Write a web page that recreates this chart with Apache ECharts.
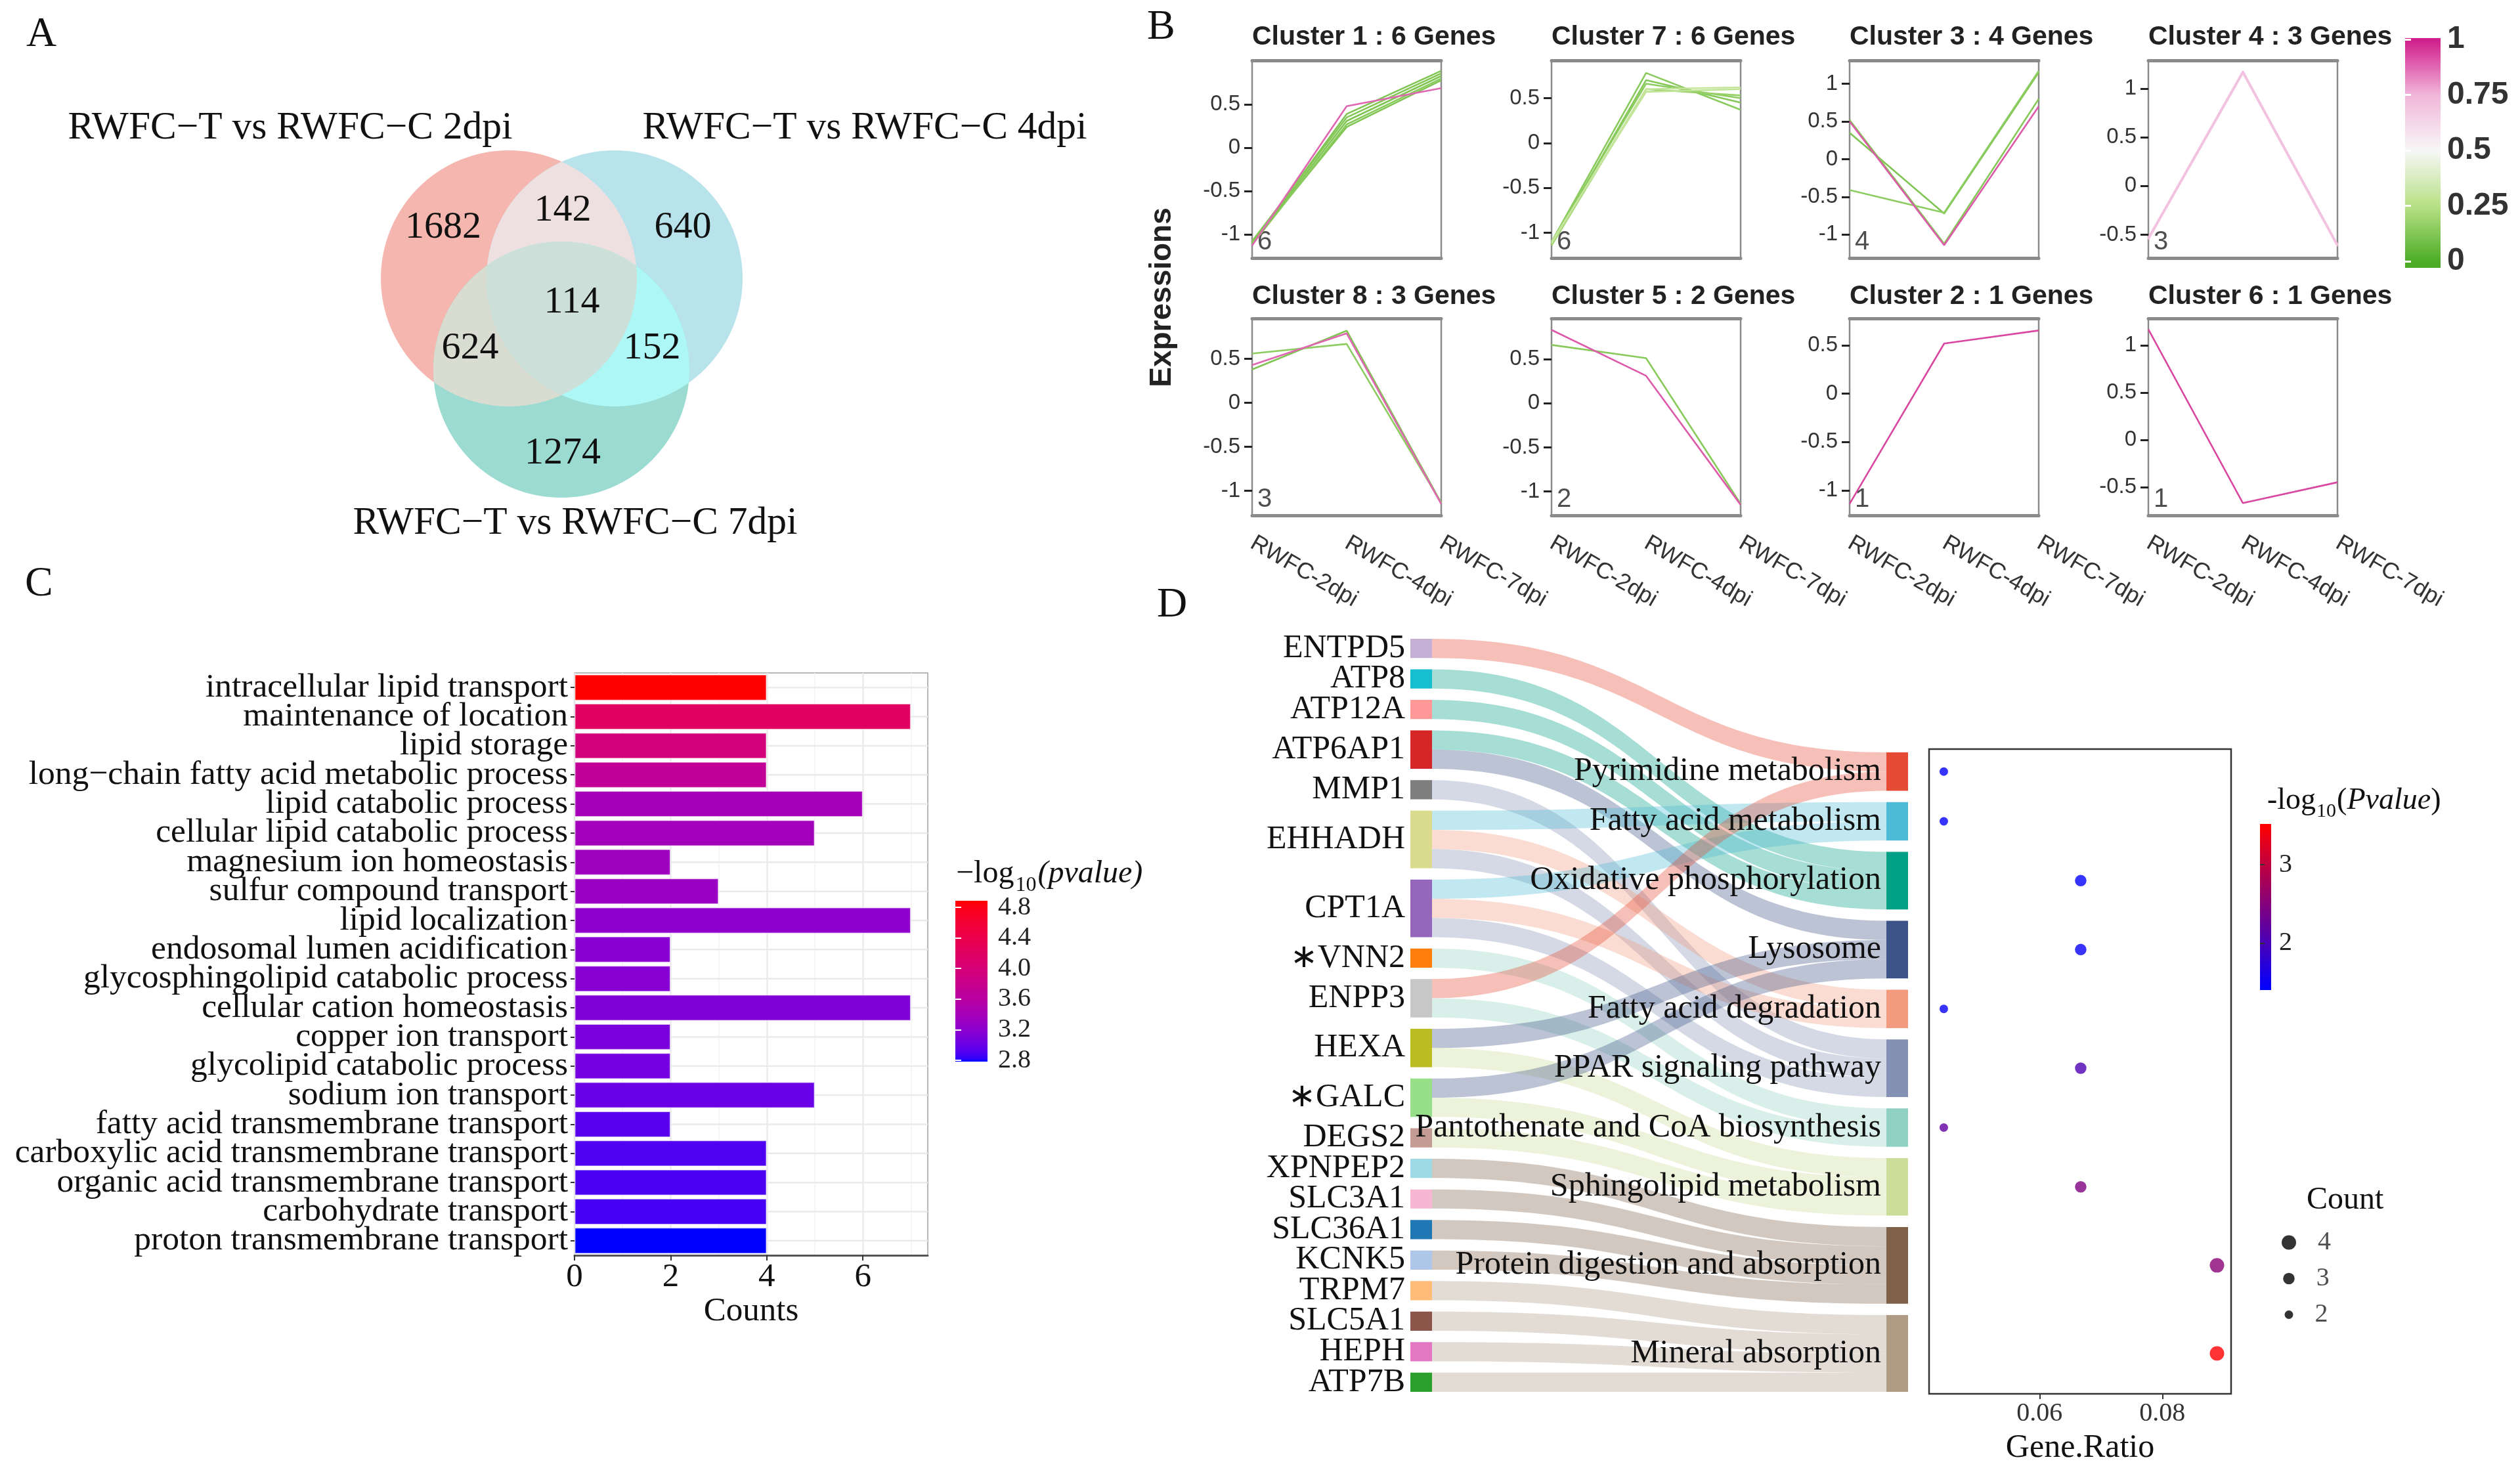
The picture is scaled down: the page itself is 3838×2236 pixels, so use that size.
<!DOCTYPE html>
<html><head><meta charset="utf-8">
<script src="https://cdn.jsdelivr.net/npm/echarts@6/dist/echarts.min.js"></script>
<style>html,body{margin:0;padding:0;background:#fff}#c{width:3838px;height:2236px}</style>
</head><body><div id="c"></div><script>
// ================= DATA =================
// Panel A (Venn)
const vennSetNames = ['RWFC\u2212T vs RWFC\u2212C 2dpi','RWFC\u2212T vs RWFC\u2212C 4dpi','RWFC\u2212T vs RWFC\u2212C 7dpi'];
const vennRegions = ['2dpi only','4dpi only','7dpi only','2dpi&4dpi','2dpi&7dpi','4dpi&7dpi','all three'];
const vennCounts = [1682, 640, 1274, 142, 624, 152, 114];

// Panel B (Mfuzz clusters)
const timePoints = ['RWFC-2dpi','RWFC-4dpi','RWFC-7dpi'];
const clusterIds = [1,7,3,4,8,5,2,6];
const clusterProfiles = [
  [[-1.10,0.39,0.89],[-1.08,0.35,0.86],[-1.10,0.31,0.83],[-1.12,0.27,0.80],[-1.10,0.24,0.78],[-1.13,0.48,0.69]],
  [[-1.10,0.78,0.37],[-1.12,0.70,0.45],[-1.10,0.66,0.50],[-1.14,0.60,0.53],[-1.10,0.57,0.60],[-1.12,0.60,0.62]],
  [[0.52,-1.12,0.80],[0.35,-0.72,1.15],[-0.41,-0.71,1.17],[0.50,-1.14,0.70]],
  [[-0.54,1.17,-0.61],[-0.55,1.16,-0.62],[-0.53,1.18,-0.60]],
  [[0.56,0.67,-1.14],[0.38,0.82,-1.14],[0.43,0.79,-1.15]],
  [[0.66,0.51,-1.14],[0.83,0.31,-1.15]],
  [[-1.14,0.52,0.655]],
  [[1.17,-0.67,-0.45]]
];
const clusterMembership = [
  [0.12,0.13,0.12,0.14,0.12,0.88],
  [0.14,0.13,0.15,0.17,0.28,0.30],
  [0.13,0.12,0.15,0.90],
  [0.70,0.70,0.70],
  [0.15,0.12,0.88],
  [0.14,0.90],
  [0.93],
  [0.93]
];
const clusterYMin = [-1.275,-1.28,-1.31,-0.74,-1.28,-1.27,-1.26,-0.80];
const clusterYMax = [1.01,0.92,1.31,1.29,0.96,0.96,0.78,1.285];
const clusterYTicks = [[-1,-0.5,0,0.5],[-1,-0.5,0,0.5],[-1,-0.5,0,0.5,1],[-0.5,0,0.5,1],[-1,-0.5,0,0.5],[-1,-0.5,0,0.5],[-1,-0.5,0,0.5],[-0.5,0,0.5,1]];
const membershipTicks = [0,0.25,0.5,0.75,1];

// Panel C (GO bars)
const goTerms = ['intracellular lipid transport','maintenance of location','lipid storage','long\u2212chain fatty acid metabolic process','lipid catabolic process','cellular lipid catabolic process','magnesium ion homeostasis','sulfur compound transport','lipid localization','endosomal lumen acidification','glycosphingolipid catabolic process','cellular cation homeostasis','copper ion transport','glycolipid catabolic process','sodium ion transport','fatty acid transmembrane transport','carboxylic acid transmembrane transport','organic acid transmembrane transport','carbohydrate transport','proton transmembrane transport'];
const goCounts = [4,7,4,4,6,5,2,3,7,2,2,7,2,2,5,2,4,4,4,4];
const goLogP = [4.886,4.20,3.97,3.70,3.40,3.38,3.34,3.30,3.22,3.17,3.16,3.12,3.08,3.06,3.00,2.93,2.90,2.89,2.87,2.783];
const goCountTicks = [0,2,4,6];
const goLegendTicks = [2.8,3.2,3.6,4.0,4.4,4.8];

// Panel D (Sankey + dot plot)
const genes = ['ENTPD5','ATP8','ATP12A','ATP6AP1','MMP1','EHHADH','CPT1A','\u2217VNN2','ENPP3','HEXA','\u2217GALC','DEGS2','XPNPEP2','SLC3A1','SLC36A1','KCNK5','TRPM7','SLC5A1','HEPH','ATP7B'];
const pathways = ['Pyrimidine metabolism','Fatty acid metabolism','Oxidative phosphorylation','Lysosome','Fatty acid degradation','PPAR signaling pathway','Pantothenate and CoA biosynthesis','Sphingolipid metabolism','Protein digestion and absorption','Mineral absorption'];
const geneLinks = [
  ['ENTPD5','Pyrimidine metabolism'],
  ['ATP8','Oxidative phosphorylation'],
  ['ATP12A','Oxidative phosphorylation'],
  ['ATP6AP1','Oxidative phosphorylation'],['ATP6AP1','Lysosome'],
  ['MMP1','PPAR signaling pathway'],
  ['EHHADH','Fatty acid metabolism'],['EHHADH','Fatty acid degradation'],['EHHADH','PPAR signaling pathway'],
  ['CPT1A','Fatty acid metabolism'],['CPT1A','Fatty acid degradation'],['CPT1A','PPAR signaling pathway'],
  ['\u2217VNN2','Pantothenate and CoA biosynthesis'],
  ['ENPP3','Pyrimidine metabolism'],['ENPP3','Pantothenate and CoA biosynthesis'],
  ['HEXA','Lysosome'],['HEXA','Sphingolipid metabolism'],
  ['\u2217GALC','Lysosome'],['\u2217GALC','Sphingolipid metabolism'],
  ['DEGS2','Sphingolipid metabolism'],
  ['XPNPEP2','Protein digestion and absorption'],['SLC3A1','Protein digestion and absorption'],
  ['SLC36A1','Protein digestion and absorption'],['KCNK5','Protein digestion and absorption'],
  ['TRPM7','Mineral absorption'],['SLC5A1','Mineral absorption'],['HEPH','Mineral absorption'],['ATP7B','Mineral absorption']
];
const pathwayCount = [2,2,3,3,2,3,2,3,4,4];
const pathwayGeneRatio = [0.0444,0.0444,0.0667,0.0667,0.0444,0.0667,0.0444,0.0667,0.0889,0.0889];
const pathwayLogP = [1.42,1.43,1.43,1.47,1.45,2.05,2.20,2.45,2.55,3.52];
const ratioTicks = [0.06,0.08];
const pLegendTicks = [2,3];
const countLegend = [4,3,2];

// ================= STYLE HELPERS =================
const FS = "'Liberation Serif','Times New Roman',serif";
const FA = "'Liberation Sans',Arial,sans-serif";
const geneColors = ['#C5B0D5','#17BECF','#FF9896','#D62728','#7F7F7F','#DBDB8D','#9467BD','#FF7F0E','#C7C7C7','#BCBD22','#98DF8A','#C49C94','#9EDAE5','#F7B6D2','#1F77B4','#AEC7E8','#FFBB78','#8C564B','#E377C2','#2CA02C'];
const pathColors = ['#E64B35','#4DBBD5','#00A087','#3C5488','#F39B7F','#8491B4','#91D1C2','#CCDD99','#7E6148','#B09C85'];
const memberStops = ['#4DAC26','#B8E186','#F7F7F7','#F1B6DA','#D01C8B'];

function hex(h){h=h.replace('#','');return [0,2,4].map(i=>parseInt(h.substr(i,2),16));}
function rgbHex(a){return '#'+a.map(v=>Math.max(0,Math.min(255,Math.round(v))).toString(16).padStart(2,'0')).join('');}
function piecewise(stops,t){t=Math.max(0,Math.min(1,t));const n=stops.length-1;const k=Math.min(n-1,Math.floor(t*n));const f=t*n-k;const a=hex(stops[k]),b=hex(stops[k+1]);return rgbHex(a.map((v,i)=>v+(b[i]-v)*f));}
function toLin(c){c/=255;return c<=0.04045?c/12.92:Math.pow((c+0.055)/1.055,2.4);}
function fromLin(c){c=c<=0.0031308?12.92*c:1.055*Math.pow(Math.max(c,0),1/2.4)-0.055;return c*255;}
function rgb2lab(rgb){const R=toLin(rgb[0]),G=toLin(rgb[1]),B=toLin(rgb[2]);
  const X=(0.4124*R+0.3576*G+0.1805*B)/0.95047,Y=0.2126*R+0.7152*G+0.0722*B,Z=(0.0193*R+0.1192*G+0.9505*B)/1.08883;
  const f=t=>t>0.008856?Math.cbrt(t):7.787*t+16/116;return [116*f(Y)-16,500*(f(X)-f(Y)),200*(f(Y)-f(Z))];}
function lab2rgb(l){const fy=(l[0]+16)/116,fx=fy+l[1]/500,fz=fy-l[2]/200;
  const fi=t=>t*t*t>0.008856?t*t*t:(t-16/116)/7.787;
  const X=fi(fx)*0.95047,Y=fi(fy),Z=fi(fz)*1.08883;
  return [fromLin(3.2406*X-1.5372*Y-0.4986*Z),fromLin(-0.9689*X+1.8758*Y+0.0415*Z),fromLin(0.0557*X-0.2040*Y+1.0570*Z)];}
const LAB_LO=rgb2lab(hex('#0000FF')),LAB_HI=rgb2lab(hex('#FF0000'));
const C_MIN=2.783,C_MAX=4.886;
function goColor(v){const t=Math.max(0,Math.min(1,(v-C_MIN)/(C_MAX-C_MIN)));return rgbHex(lab2rgb(LAB_LO.map((a,i)=>a+(LAB_HI[i]-a)*t)));}
const D_MIN=1.40,D_MAX=3.52;
function dColor(v){return piecewise(['#0000FF','#FF0000'],(v-D_MIN)/(D_MAX-D_MIN));}
function memberColor(m){return piecewise(memberStops,m);}
function dotSize(c){return 4.5*c+4;}

// ================= BUILD OPTION =================
const grids=[],xAxes=[],yAxes=[],series=[],graphics=[];
const addG=g=>{grids.push(Object.assign({containLabel:false},g));return grids.length-1;};
const addX=a=>{xAxes.push(a);return xAxes.length-1;};
const addY=a=>{yAxes.push(a);return yAxes.length-1;};
function txt(x,y,text,o){o=o||{};graphics.push({type:'text',x,y,rotation:o.rotation||0,z:50,silent:true,style:Object.assign({text,fill:o.color||'#111',fontSize:o.size||50,fontFamily:o.family||FS,fontWeight:o.weight||'normal',fontStyle:o.style||'normal',textAlign:o.align||'left',align:o.align||'left',textVerticalAlign:'middle',verticalAlign:'middle'},o.extra||{})});}

// panel letters
txt(40,53,'A',{size:64});txt(1747,42,'B',{size:64});txt(38,890,'C',{size:64});txt(1762,922,'D',{size:64});

// ---------- Panel A: Venn ----------
const VENN={c:[[775,424],[936,424],[855,563]],r:195,
  shapes:[[0],[1],[2],[0,1],[0,2],[1,2],[0,1,2]],
  fills:['#F4B6AE','#B9E3EB','#9CDBD1','#EEE0E0','#D9DCD0','#ADF7F7','#CCDFD9'],
  labelPos:[[675,347],[1040,347],[857,691],[857,321],[716,531],[993,531],[871,461]],
  titlePos:[[442,195],[1317,195],[876,797]]};
function discIntersection(ids){const pts=[],N=1440;
  ids.forEach(i=>{const cx=VENN.c[i][0],cy=VENN.c[i][1];
    for(let k=0;k<N;k++){const t=2*Math.PI*k/N,x=cx+VENN.r*Math.cos(t),y=cy+VENN.r*Math.sin(t);
      if(ids.every(j=>j===i||Math.hypot(x-VENN.c[j][0],y-VENN.c[j][1])<=VENN.r+1e-6))pts.push([x,y]);}});
  let mx=0,my=0;pts.forEach(p=>{mx+=p[0];my+=p[1];});mx/=pts.length;my/=pts.length;
  pts.sort((a,b)=>Math.atan2(a[1]-my,a[0]-mx)-Math.atan2(b[1]-my,b[0]-mx));return pts;}
const gA=addG({left:0,top:0,width:1700,height:900,show:false});
const xA=addX({gridIndex:gA,type:'value',min:0,max:1700,show:false});
const yA=addY({gridIndex:gA,type:'value',min:0,max:900,inverse:true,show:false});
series.push({type:'custom',xAxisIndex:xA,yAxisIndex:yA,silent:true,z:1,data:VENN.shapes.map((s,i)=>[i]),
  renderItem:(p,api)=>{const ids=VENN.shapes[p.dataIndex],fill=VENN.fills[p.dataIndex];
    if(ids.length===1){const c=api.coord(VENN.c[ids[0]]);const r=api.size([VENN.r,0])[0];return {type:'circle',shape:{cx:c[0],cy:c[1],r},style:{fill}};}
    return {type:'polygon',shape:{points:discIntersection(ids).map(q=>api.coord(q))},style:{fill}};}});
series.push({type:'custom',xAxisIndex:xA,yAxisIndex:yA,silent:true,z:3,data:vennCounts.map(v=>[v]),
  renderItem:(p,api)=>{const c=api.coord(VENN.labelPos[p.dataIndex]);
    return {type:'text',x:c[0],y:c[1],style:{text:String(vennCounts[p.dataIndex]),fontSize:58,fontFamily:FS,fill:'#111',textAlign:'center',align:'center',textVerticalAlign:'middle',verticalAlign:'middle'}};}});
vennSetNames.forEach((n,i)=>txt(VENN.titlePos[i][0],VENN.titlePos[i][1],n,{size:59.5,align:'center'}));

// ---------- Panel B: clusters ----------
const colLeft=[1907,2363,2817,3272],rowTop=[92,485],rowH=[301,300],boxW=288,titleY=[57,452];
clusterIds.forEach((cid,k)=>{
  const row=Math.floor(k/4),col=k%4,prof=clusterProfiles[k],mem=clusterMembership[k];
  const g=addG({left:colLeft[col],top:rowTop[row],width:boxW,height:rowH[row],show:true,borderColor:'#8a8a8a',borderWidth:2.5});
  const xi=addX({gridIndex:g,type:'category',data:timePoints,boundaryGap:false,
    axisLine:{show:true,onZero:false,lineStyle:{color:'#8a8a8a',width:5}},axisTick:{show:false},
    axisLabel:{show:row===1,rotate:-30,fontSize:35,fontFamily:FA,color:'#333',margin:40,interval:0}});
  addX({gridIndex:g,type:'category',position:'top',data:timePoints,boundaryGap:false,
    axisLine:{show:true,onZero:false,lineStyle:{color:'#8a8a8a',width:5}},axisTick:{show:false},axisLabel:{show:false}});
  const yi=addY({gridIndex:g,type:'value',min:clusterYMin[k],max:clusterYMax[k],
    axisLine:{show:false},splitLine:{show:false},
    axisTick:{show:true,length:12,lineStyle:{color:'#222',width:3},customValues:clusterYTicks[k]},
    axisLabel:{customValues:clusterYTicks[k],fontSize:33,fontFamily:FA,color:'#333',margin:18}});
  const order=mem.map((m,i)=>i).sort((a,b)=>mem[a]-mem[b]);
  order.forEach((j,zi)=>series.push({type:'line',xAxisIndex:xi,yAxisIndex:yi,data:prof[j],symbol:'none',silent:true,z:2+zi*0.01,
    lineStyle:{color:memberColor(mem[j]),width:2.6}}));
  series.push({type:'scatter',xAxisIndex:xi,yAxisIndex:yi,data:[[0,clusterYMin[k]]],symbolSize:0.1,silent:true,
    itemStyle:{color:'rgba(0,0,0,0)'},label:{show:true,formatter:String(prof.length),position:[8,-44],fontSize:40,fontFamily:FA,color:'#222'}});
  txt(colLeft[col],titleY[row],'Cluster '+cid+' : '+prof.length+' Genes',{size:41,family:FA,weight:'bold',color:'#222'});
});
txt(1770,453,'Expressions',{size:46,family:FA,weight:'bold',color:'#222',align:'center',rotation:Math.PI/2});

// colorbar helper
function colorbar(g,min,max,colorFn,ticks,tickStyle,labelStyle,twoSided){
  const xi=addX({gridIndex:g,type:'value',min:0,max:1,show:false});
  const yi=addY({gridIndex:g,type:'value',min,max,position:'right',axisLine:{show:false},splitLine:{show:false},
    axisTick:Object.assign({show:true,customValues:ticks},tickStyle),axisLabel:Object.assign({customValues:ticks},labelStyle)});
  if(twoSided) addY({gridIndex:g,type:'value',min,max,position:'left',axisLine:{show:false},splitLine:{show:false},
    axisTick:Object.assign({show:true,customValues:ticks},tickStyle),axisLabel:{show:false}});
  const stops=[];for(let i=0;i<=60;i++){const t=i/60;stops.push({offset:t,color:colorFn(min+(max-min)*t)});}
  series.push({type:'custom',xAxisIndex:xi,yAxisIndex:yi,silent:true,z:-1,data:[[0,min]],
    renderItem:(p)=>{const cs=p.coordSys;return {type:'rect',shape:{x:cs.x,y:cs.y,width:cs.width,height:cs.height},style:{fill:new echarts.graphic.LinearGradient(0,1,0,0,stops)}};}});
}
const gBc=addG({left:3663,top:58,width:54,height:350,show:false});
colorbar(gBc,-0.0296,1.006,memberColor,membershipTicks,{inside:true,length:9,lineStyle:{color:'#fff',width:3}},
  {fontSize:48,fontFamily:FA,fontWeight:'bold',color:'#333',margin:10},true);

// ---------- Panel C: GO bar ----------
const C_XMAX=7.35;
const gC=addG({left:875,top:1025,width:538,height:887,show:true,borderColor:'#a0a0a0',borderWidth:1.5});
const xC=addX({gridIndex:gC,type:'value',min:0,max:C_XMAX,interval:2,
  axisLine:{show:true,onZero:false,lineStyle:{color:'#555',width:3}},
  axisTick:{show:true,length:8,lineStyle:{color:'#333',width:2},customValues:goCountTicks},
  axisLabel:{fontSize:51,fontFamily:FS,color:'#111',margin:8,customValues:goCountTicks},
  splitLine:{show:true,lineStyle:{color:'#EBEBEB',width:2.5}},
  minorTick:{show:false,splitNumber:2},minorSplitLine:{show:true,lineStyle:{color:'#F3F3F3',width:1.5}},
  name:'Counts',nameLocation:'middle',nameGap:52,nameTextStyle:{fontSize:51,fontFamily:FS,color:'#111'}});
const yC=addY({gridIndex:gC,type:'category',data:goTerms,inverse:true,
  axisLine:{show:false},axisTick:{show:true,alignWithLabel:true,length:6,lineStyle:{color:'#333',width:2}},
  axisLabel:{fontSize:51.5,fontFamily:FS,color:'#111',margin:10,interval:0},splitLine:{show:false}});
// horizontal major gridlines through category centres
series.push({type:'custom',xAxisIndex:xC,yAxisIndex:yC,silent:true,z:1,data:goTerms.map((t,i)=>[0,i]),
  renderItem:(p,api)=>{const a=api.coord([0,p.dataIndex]),b=api.coord([C_XMAX,p.dataIndex]);
    return {type:'line',shape:{x1:a[0],y1:a[1],x2:b[0],y2:b[1]},style:{stroke:'#EBEBEB',lineWidth:2.5}};}});
series.push({type:'bar',xAxisIndex:xC,yAxisIndex:yC,barWidth:'90%',silent:true,z:2,
  data:goCounts.map((v,i)=>({value:v,itemStyle:{color:goColor(goLogP[i]),borderColor:'rgba(255,255,255,0.55)',borderWidth:1.5}}))});
const gCc=addG({left:1455,top:1372,width:49,height:245,show:false});
colorbar(gCc,C_MIN,C_MAX,goColor,goLegendTicks,{inside:true,length:9,lineStyle:{color:'#fff',width:2}},
  {fontSize:40,fontFamily:FS,color:'#222',margin:16,formatter:v=>v.toFixed(1)},true);
txt(1456,1336,'{a|\u2212log}{s|10}{i|(pvalue)}',{size:46,extra:{rich:{
  a:{fontSize:48,fontFamily:FS,fill:'#111',verticalAlign:'bottom',padding:[0,0,10,0]},
  s:{fontSize:32,fontFamily:FS,fill:'#111',verticalAlign:'bottom',padding:[0,2,0,2]},
  i:{fontSize:48,fontFamily:FS,fontStyle:'italic',fill:'#111',verticalAlign:'bottom',padding:[0,0,10,0]}}}});

// ---------- Panel D: Sankey ----------
const SK={left:2148,top:973,width:758,height:1147,gap:17.3,nodeW:33};
const SK_KY=(SK.height-(genes.length-1)*SK.gap)/geneLinks.length;
const padValue=(SK.height-pathways.length*SK.gap)/SK_KY-geneLinks.length;
const pathTop=SK.top+padValue*SK_KY+SK.gap;
series.push({type:'sankey',left:SK.left,top:SK.top,width:SK.width,height:SK.height,nodeWidth:SK.nodeW,nodeGap:SK.gap,
  layoutIterations:0,draggable:false,nodeAlign:'justify',silent:true,emphasis:{disabled:true},
  label:{position:'left',distance:8,fontSize:50,fontFamily:FS,color:'#111'},
  itemStyle:{borderWidth:0},
  lineStyle:{color:'target',opacity:0.35,curveness:0.5},
  data:[].concat(
    genes.map((g,i)=>({name:g,depth:0,itemStyle:{color:geneColors[i],borderWidth:0}})),
    [{name:'__pad',depth:1,value:padValue,itemStyle:{color:'rgba(0,0,0,0)',borderWidth:0},label:{show:false}}],
    pathways.map((p,i)=>({name:p,depth:1,itemStyle:{color:pathColors[i],borderWidth:0}}))),
  links:geneLinks.map(l=>({source:l[0],target:l[1],value:1}))});

// dot plot
let acc=0;const pathCenterU=pathwayCount.map(c=>{const v=acc+c/2;acc+=c+SK.gap/SK_KY;return v;});
const gD=addG({left:2938,top:1141,width:460,height:982,show:true,borderColor:'#333',borderWidth:2.5});
const xD=addX({gridIndex:gD,type:'value',min:0.042,max:0.0912,axisLine:{show:false,onZero:false},splitLine:{show:false},
  axisTick:{show:true,customValues:ratioTicks,length:8,lineStyle:{color:'#333',width:2}},
  axisLabel:{customValues:ratioTicks,fontSize:40,fontFamily:FS,color:'#333',margin:10,formatter:v=>v.toFixed(2)},
  name:'Gene.Ratio',nameLocation:'middle',nameGap:58,nameTextStyle:{fontSize:50,fontFamily:FS,color:'#111'}});
const yD=addY({gridIndex:gD,type:'value',inverse:true,min:(1141-pathTop)/SK_KY,max:(2123-pathTop)/SK_KY,show:false});
series.push({type:'scatter',xAxisIndex:xD,yAxisIndex:yD,silent:true,
  data:pathways.map((p,i)=>({value:[pathwayGeneRatio[i],pathCenterU[i]],symbolSize:dotSize(pathwayCount[i]),itemStyle:{color:dColor(pathwayLogP[i])}}))});
const gDc=addG({left:3442,top:1255,width:17,height:253,show:false});
colorbar(gDc,D_MIN,D_MAX,dColor,pLegendTicks,{inside:false,length:7,lineStyle:{color:'#333',width:2}},
  {fontSize:40,fontFamily:FS,color:'#222',margin:12},false);
txt(3453,1224,'{a|-log}{s|10}{a|(}{i|Pvalue}{a|)}',{size:44,extra:{rich:{
  a:{fontSize:46,fontFamily:FS,fill:'#111',verticalAlign:'bottom',padding:[0,0,9,0]},
  s:{fontSize:30,fontFamily:FS,fill:'#111',verticalAlign:'bottom',padding:[0,1,0,1]},
  i:{fontSize:46,fontFamily:FS,fontStyle:'italic',fill:'#111',verticalAlign:'bottom',padding:[0,0,9,0]}}}});
txt(3513,1828,'Count',{size:48});
const gCnt=addG({left:3476,top:1865,width:20,height:165,show:false});
const xCnt=addX({gridIndex:gCnt,type:'value',min:-1,max:1,show:false});
const yCnt=addY({gridIndex:gCnt,type:'category',data:countLegend.map(String),inverse:true,show:false});
series.push({type:'scatter',xAxisIndex:xCnt,yAxisIndex:yCnt,silent:true,
  data:countLegend.map((c,i)=>({value:[0,i],symbolSize:dotSize(c)})),itemStyle:{color:'#000'},
  label:{show:true,position:'right',distance:0,formatter:p=>String(countLegend[p.dataIndex]),fontSize:40,fontFamily:FS,color:'#222',
    offset:[44-dotSize(4)/2,0]}});

const option={animation:false,backgroundColor:'#fff',grid:grids,xAxis:xAxes,yAxis:yAxes,series,graphic:{elements:graphics}};
const chart=echarts.init(document.getElementById('c'),null,{renderer:'canvas',width:3838,height:2236});
chart.setOption(option);
</script></body></html>
